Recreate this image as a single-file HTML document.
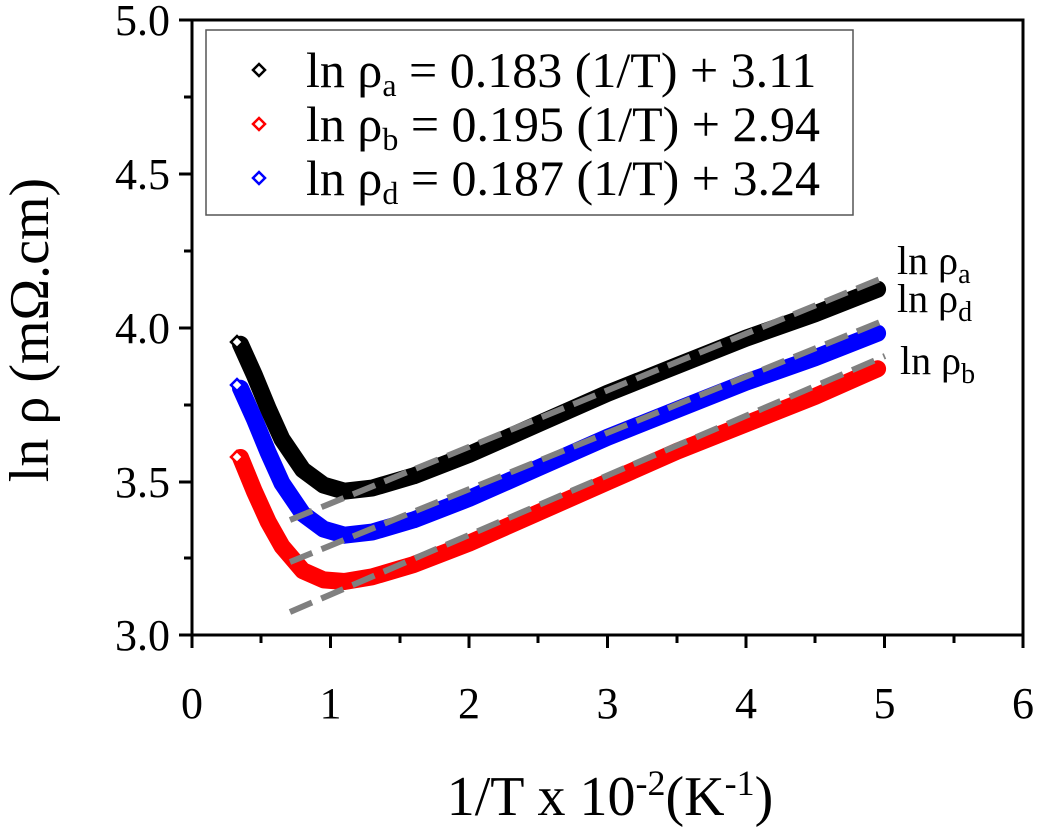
<!DOCTYPE html>
<html><head><meta charset="utf-8"><style>
html,body{margin:0;padding:0;background:#fff;}
svg{display:block;}
text{font-family:"Liberation Serif",serif;}
</style></head><body>
<svg width="1039" height="831" viewBox="0 0 1039 831">
<rect width="1039" height="831" fill="#fff"/>
<g fill="none" stroke-linejoin="round" stroke-linecap="round" stroke-width="17">
<polyline stroke="#000" points="240.5,344.3 254.3,374.9 268.2,408.6 282,439.2 302.8,469.8 323.6,485.1 344.4,491.2 372,488.1 413.6,475.9 469,454.5 538.3,423.9 607.5,393.3 676.8,365.7 746,338.2 815.3,313.7 877.6,289.2"/>
<polyline stroke="#0000ff" transform="translate(0,44)" points="240.5,344.3 254.3,374.9 268.2,408.6 282,439.2 302.8,469.8 323.6,485.1 344.4,491.2 372,488.1 413.6,475.9 469,454.5 538.3,423.9 607.5,393.3 676.8,365.7 746,338.2 815.3,313.7 877.6,289.2"/>
<polyline stroke="#ff0000" points="240.5,457.5 254.3,491.2 268.2,521.8 282,546.3 302.8,570.7 323.6,579.9 344.4,581.5 372,576.9 413.6,564.6 469,543.2 538.3,512.6 607.5,482 676.8,451.4 746,423.9 815.3,396.3 877.6,368.8"/>
</g>
<g fill="#fff" stroke-width="2.5">
<path d="M237,336 l6,6 -6,6 -6,-6z" stroke="#000"/>
<path d="M237,379 l6,6 -6,6 -6,-6z" stroke="#00f"/>
<path d="M237,451 l6,6 -6,6 -6,-6z" stroke="#f00"/>
</g>
<g stroke="#808080" stroke-width="6" stroke-dasharray="24,10">
<line x1="290" y1="520" x2="885" y2="277"/>
<line x1="290" y1="562" x2="885" y2="320"/>
<line x1="290" y1="612" x2="885" y2="356"/>
</g>
<g stroke="#000" stroke-width="3" fill="none">
<rect x="192" y="20" width="831" height="615"/>
<path d="M192,635v13 M330.5,635v13 M469,635v13 M607.5,635v13 M746,635v13 M884.5,635v13 M1023,635v13"/>
<path d="M261,635v8 M400,635v8 M538,635v8 M677,635v8 M815,635v8 M954,635v8"/>
<path d="M192,635h-13 M192,482h-13 M192,328h-13 M192,174h-13 M192,20h-13"/>
<path d="M192,558h-8 M192,405h-8 M192,251h-8 M192,97h-8"/>
</g>
<g font-size="44" text-anchor="middle" fill="#000">
<text x="192" y="718">0</text><text x="330.5" y="718">1</text><text x="469" y="718">2</text><text x="607.5" y="718">3</text><text x="746" y="718">4</text><text x="884.5" y="718">5</text><text x="1023" y="718">6</text>
</g>
<g font-size="44" text-anchor="end" fill="#000">
<text x="170" y="650">3.0</text><text x="170" y="497">3.5</text><text x="170" y="343">4.0</text><text x="170" y="189">4.5</text><text x="170" y="35">5.0</text>
</g>
<text x="610" y="815" font-size="56" text-anchor="middle">1/T x 10<tspan dy="-20" font-size="36">-2</tspan><tspan dy="20">(K</tspan><tspan dy="-20" font-size="36">-1</tspan><tspan dy="20">)</tspan></text>
<text transform="translate(48,330) rotate(-90)" font-size="56" text-anchor="middle">ln ρ (mΩ.cm)</text>
<rect x="206" y="30" width="647" height="185" fill="#fff" stroke="#555" stroke-width="1.5"/>
<g stroke-width="2.5" fill="#fff">
<path d="M259,64 l6,6 -6,6 -6,-6z" stroke="#000"/>
<path d="M259,118 l6,6 -6,6 -6,-6z" stroke="#f00"/>
<path d="M259,172 l6,6 -6,6 -6,-6z" stroke="#00f"/>
</g>
<g font-size="50" fill="#000">
<text x="306" y="87">ln ρ<tspan dy="9" font-size="32">a</tspan><tspan dy="-9"> = 0.183 (1/T) + 3.11</tspan></text>
<text x="306" y="141">ln ρ<tspan dy="9" font-size="32">b</tspan><tspan dy="-9"> = 0.195 (1/T) + 2.94</tspan></text>
<text x="306" y="195">ln ρ<tspan dy="9" font-size="32">d</tspan><tspan dy="-9"> = 0.187 (1/T) + 3.24</tspan></text>
</g>
<g font-size="40" fill="#000">
<text x="897" y="274">ln ρ<tspan dy="9" font-size="28">a</tspan></text>
<text x="897" y="312">ln ρ<tspan dy="9" font-size="28">d</tspan></text>
<text x="900" y="374">ln ρ<tspan dy="9" font-size="28">b</tspan></text>
</g>
</svg>
</body></html>
